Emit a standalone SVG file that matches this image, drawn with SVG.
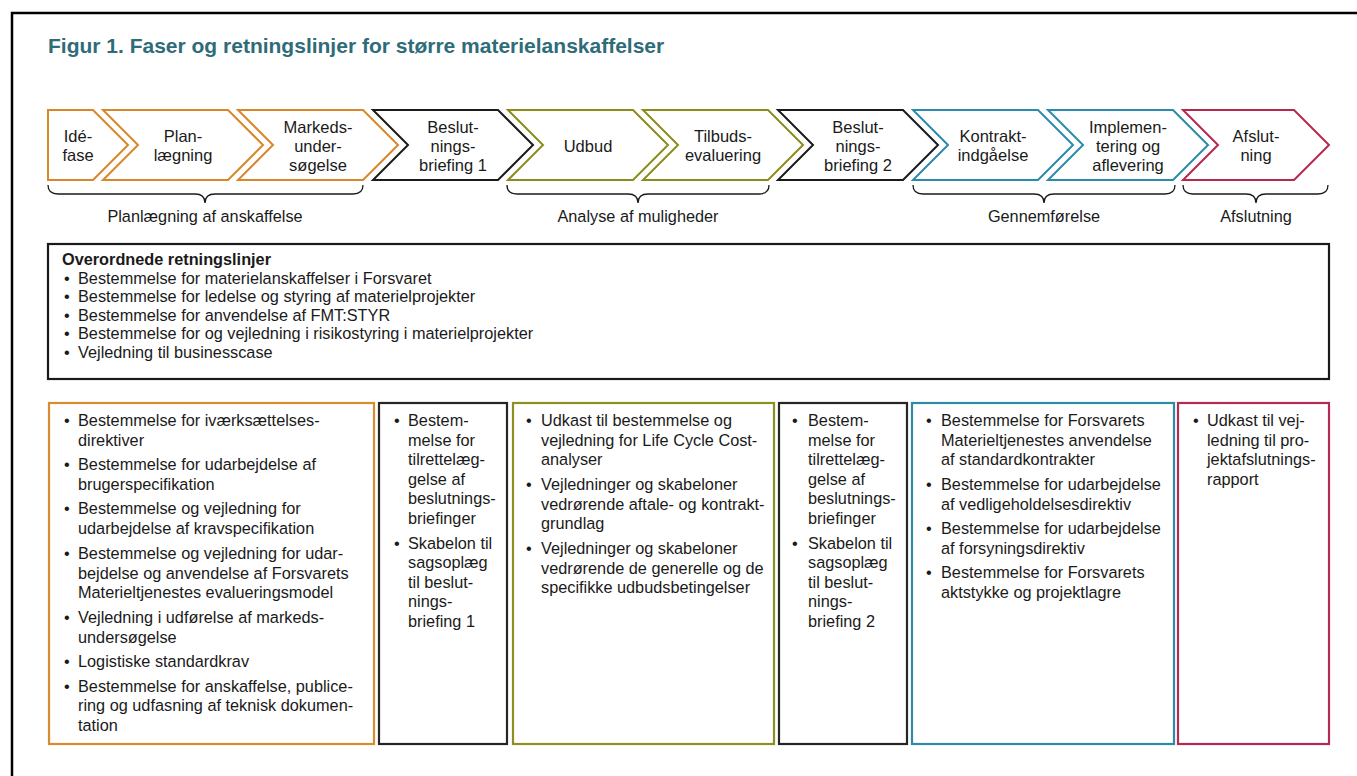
<svg xmlns="http://www.w3.org/2000/svg" width="1357" height="776" viewBox="0 0 1357 776">
<style>
text{font-family:"Liberation Sans",Arial,sans-serif;fill:#1a1a1a}
.t{font-size:21px;font-weight:bold;fill:#2F6C79}
.c{font-size:16.5px;text-anchor:middle}
.l{font-size:16.3px}
.lb{font-size:16.3px;text-anchor:middle}
.o{font-size:16.3px}
.ob{font-size:16.3px;font-weight:bold}
.ch{fill:#fff;stroke-width:2;stroke-linejoin:miter}
.or{stroke:#D9872B}
.gr{stroke:#8C8C1C}
.bl{stroke:#2A8BAA}
.rd{stroke:#B5284F}
.bk{stroke:#1a1a1a}
.bx{fill:#fff;stroke-width:2.2}
.br{fill:none;stroke:#1a1a1a;stroke-width:1.3}
</style>
<rect x="12" y="13" width="1400" height="820" fill="#fff" stroke="#000" stroke-width="2.5"/>
<text class="t" x="48" y="53">Figur 1. Faser og retningslinjer for større materielanskaffelser</text>

<g id="phase1"><path class="ch or" d="M48,110 L93,110 L128,145 L93,180 L48,180 Z"/><text class="c" x="78" y="142">Idé-</text><text class="c" x="78" y="161">fase</text></g>
<g id="phase2"><path class="ch or" d="M103,110 L228,110 L263,145 L228,180 L103,180 L138,145 Z"/><text class="c" x="183" y="142">Plan-</text><text class="c" x="183" y="161">lægning</text></g>
<g id="phase3"><path class="ch or" d="M238,110 L363,110 L398,145 L363,180 L238,180 L273,145 Z"/><text class="c" x="318" y="133">Markeds-</text><text class="c" x="318" y="152">under-</text><text class="c" x="318" y="171">søgelse</text></g>
<g id="phase4"><path class="ch bk" d="M373,110 L498,110 L533,145 L498,180 L373,180 L408,145 Z"/><text class="c" x="453" y="133">Beslut-</text><text class="c" x="453" y="152">nings-</text><text class="c" x="453" y="171">briefing 1</text></g>
<g id="phase5"><path class="ch gr" d="M508,110 L633,110 L668,145 L633,180 L508,180 L543,145 Z"/><text class="c" x="588" y="152">Udbud</text></g>
<g id="phase6"><path class="ch gr" d="M643,110 L768,110 L803,145 L768,180 L643,180 L678,145 Z"/><text class="c" x="723" y="142">Tilbuds-</text><text class="c" x="723" y="161">evaluering</text></g>
<g id="phase7"><path class="ch bk" d="M778,110 L903,110 L938,145 L903,180 L778,180 L813,145 Z"/><text class="c" x="858" y="133">Beslut-</text><text class="c" x="858" y="152">nings-</text><text class="c" x="858" y="171">briefing 2</text></g>
<g id="phase8"><path class="ch bl" d="M913,110 L1038,110 L1073,145 L1038,180 L913,180 L948,145 Z"/><text class="c" x="993" y="142">Kontrakt-</text><text class="c" x="993" y="161">indgåelse</text></g>
<g id="phase9"><path class="ch bl" d="M1048,110 L1173,110 L1208,145 L1173,180 L1048,180 L1083,145 Z"/><text class="c" x="1128" y="133">Implemen-</text><text class="c" x="1128" y="152">tering og</text><text class="c" x="1128" y="171">aflevering</text></g>
<g id="phase10"><path class="ch rd" d="M1183,110 L1294,110 L1329,145 L1294,180 L1183,180 L1218,145 Z"/><text class="c" x="1256" y="142">Afslut-</text><text class="c" x="1256" y="161">ning</text></g>

<g id="connectors">
<path class="br" d="M48,185 Q48,194 58,194 L195,194 Q205,194 205,203 Q205,194 215,194 L353,194 Q363,194 363,185"/>
<path class="br" d="M507,185 Q507,194 517,194 L628,194 Q638,194 638,203 Q638,194 648,194 L759,194 Q769,194 769,185"/>
<path class="br" d="M913,185 Q913,194 923,194 L1034,194 Q1044,194 1044,203 Q1044,194 1054,194 L1165,194 Q1175,194 1175,185"/>
<path class="br" d="M1183,185 Q1183,194 1193,194 L1246,194 Q1256,194 1256,203 Q1256,194 1266,194 L1318,194 Q1328,194 1328,185"/>
</g>
<g id="group-labels">
<text class="lb" x="205" y="222">Planlægning af anskaffelse</text>
<text class="lb" x="638" y="222">Analyse af muligheder</text>
<text class="lb" x="1044" y="222">Gennemførelse</text>
<text class="lb" x="1256" y="222">Afslutning</text>
</g>

<g id="overall">
<rect class="bx" x="48" y="244" width="1281" height="135" stroke="#1a1a1a"/>
<text class="ob" x="62" y="265">Overordnede retningslinjer</text>
<text class="o" x="64" y="283.5">•</text><text class="o" x="78" y="283.5">Bestemmelse for materielanskaffelser i Forsvaret</text>
<text class="o" x="64" y="302">•</text><text class="o" x="78" y="302">Bestemmelse for ledelse og styring af materielprojekter</text>
<text class="o" x="64" y="320.5">•</text><text class="o" x="78" y="320.5">Bestemmelse for anvendelse af FMT:STYR</text>
<text class="o" x="64" y="339">•</text><text class="o" x="78" y="339">Bestemmelse for og vejledning i risikostyring i materielprojekter</text>
<text class="o" x="64" y="357.5">•</text><text class="o" x="78" y="357.5">Vejledning til businesscase</text>
</g>

<g id="box-planning">
<rect class="bx" x="49" y="403" width="325" height="341" stroke="#D98C2E"/>
<text class="l" x="64" y="426">•</text><text class="l" x="78" y="426">Bestemmelse for iværksættelses-</text><text class="l" x="78" y="445.5">direktiver</text>
<text class="l" x="64" y="470">•</text><text class="l" x="78" y="470">Bestemmelse for udarbejdelse af</text><text class="l" x="78" y="489.7">brugerspecifikation</text>
<text class="l" x="64" y="514">•</text><text class="l" x="78" y="514">Bestemmelse og vejledning for</text><text class="l" x="78" y="533.7">udarbejdelse af kravspecifikation</text>
<text class="l" x="64" y="559">•</text><text class="l" x="78" y="559">Bestemmelse og vejledning for udar-</text><text class="l" x="78" y="578.5">bejdelse og anvendelse af Forsvarets</text><text class="l" x="78" y="598">Materieltjenestes evalueringsmodel</text>
<text class="l" x="64" y="623">•</text><text class="l" x="78" y="623">Vejledning i udførelse af markeds-</text><text class="l" x="78" y="642.5">undersøgelse</text>
<text class="l" x="64" y="666.7">•</text><text class="l" x="78" y="666.7">Logistiske standardkrav</text>
<text class="l" x="64" y="691.5">•</text><text class="l" x="78" y="691.5">Bestemmelse for anskaffelse, publice-</text><text class="l" x="78" y="711.2">ring og udfasning af teknisk dokumen-</text><text class="l" x="78" y="731">tation</text>
</g>

<g id="box-brief1">
<rect class="bx" x="379" y="403" width="128" height="341" stroke="#262626"/>
<text class="l" x="394" y="426">•</text><text class="l" x="408" y="426">Bestem-</text><text class="l" x="408" y="445.5">melse for</text><text class="l" x="408" y="465">tilrettelæg-</text><text class="l" x="408" y="484.5">gelse af</text><text class="l" x="408" y="504">beslutnings-</text><text class="l" x="408" y="523.5">briefinger</text>
<text class="l" x="394" y="548.5">•</text><text class="l" x="408" y="548.5">Skabelon til</text><text class="l" x="408" y="568">sagsoplæg</text><text class="l" x="408" y="587.5">til beslut-</text><text class="l" x="408" y="607">nings-</text><text class="l" x="408" y="626.5">briefing 1</text>
</g>

<g id="box-analysis">
<rect class="bx" x="513" y="403" width="261" height="341" stroke="#8E8E22"/>
<text class="l" x="526" y="426">•</text><text class="l" x="541" y="426">Udkast til bestemmelse og</text><text class="l" x="541" y="445.5">vejledning for Life Cycle Cost-</text><text class="l" x="541" y="465">analyser</text>
<text class="l" x="526" y="490">•</text><text class="l" x="541" y="490">Vejledninger og skabeloner</text><text class="l" x="541" y="509.5">vedrørende aftale- og kontrakt-</text><text class="l" x="541" y="529">grundlag</text>
<text class="l" x="526" y="554">•</text><text class="l" x="541" y="554">Vejledninger og skabeloner</text><text class="l" x="541" y="573.5">vedrørende de generelle og de</text><text class="l" x="541" y="593">specifikke udbudsbetingelser</text>
</g>

<g id="box-brief2">
<rect class="bx" x="779" y="403" width="128" height="341" stroke="#262626"/>
<text class="l" x="792" y="426">•</text><text class="l" x="808" y="426">Bestem-</text><text class="l" x="808" y="445.5">melse for</text><text class="l" x="808" y="465">tilrettelæg-</text><text class="l" x="808" y="484.5">gelse af</text><text class="l" x="808" y="504">beslutnings-</text><text class="l" x="808" y="523.5">briefinger</text>
<text class="l" x="792" y="548.5">•</text><text class="l" x="808" y="548.5">Skabelon til</text><text class="l" x="808" y="568">sagsoplæg</text><text class="l" x="808" y="587.5">til beslut-</text><text class="l" x="808" y="607">nings-</text><text class="l" x="808" y="626.5">briefing 2</text>
</g>

<g id="box-execution">
<rect class="bx" x="912" y="403" width="262" height="341" stroke="#2E8BA8"/>
<text class="l" x="926" y="426">•</text><text class="l" x="941" y="426">Bestemmelse for Forsvarets</text><text class="l" x="941" y="445.5">Materieltjenestes anvendelse</text><text class="l" x="941" y="465">af standardkontrakter</text>
<text class="l" x="926" y="490">•</text><text class="l" x="941" y="490">Bestemmelse for udarbejdelse</text><text class="l" x="941" y="509.5">af vedligeholdelsesdirektiv</text>
<text class="l" x="926" y="534">•</text><text class="l" x="941" y="534">Bestemmelse for udarbejdelse</text><text class="l" x="941" y="553.5">af forsyningsdirektiv</text>
<text class="l" x="926" y="578">•</text><text class="l" x="941" y="578">Bestemmelse for Forsvarets</text><text class="l" x="941" y="597.5">aktstykke og projektlagre</text>
</g>

<g id="box-closing">
<rect class="bx" x="1178" y="403" width="151" height="341" stroke="#B52A52"/>
<text class="l" x="1193" y="426">•</text><text class="l" x="1207" y="426">Udkast til vej-</text><text class="l" x="1207" y="445.5">ledning til pro-</text><text class="l" x="1207" y="465">jektafslutnings-</text><text class="l" x="1207" y="484.5">rapport</text>
</g>
</svg>
